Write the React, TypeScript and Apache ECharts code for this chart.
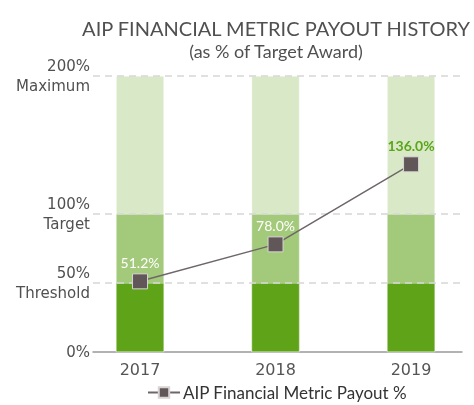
import React, { useEffect, useRef } from "react";
import * as echarts from "echarts";

const years = ["2017", "2018", "2019"];
const thresholdLevel = [50, 50, 50];
const targetLevel = [100, 100, 100];
const maximumLevel = [200, 200, 200];
const payout = [51.2, 78.0, 136.0];
const payoutLabelColors = ["#ffffff", "#ffffff", "#5aa51a"];
const yTicks = [0, 50, 100, 200];
const yTickNames: Record<number, string> = { 0: "", 50: "Threshold", 100: "Target", 200: "Maximum" };

const FONT = "'DejaVu Sans', sans-serif";
const TFONT = "Lato, sans-serif";

export default function App() {
  const ref = useRef<HTMLDivElement>(null);
  useEffect(() => {
    const chart = echarts.init(ref.current!, undefined, { renderer: "svg" });
    const idx = years.map((_, i) => i);
    const barSeries = (levels: number[], color: string) => ({
      type: "bar",
      barWidth: 48,
      barGap: "-100%",
      data: levels.map((v, i) => [i, v]),
      itemStyle: { color, borderColor: "rgba(255,255,255,0.6)", borderWidth: 0.6 },
      z: 2,
    });
    chart.setOption({
      animation: false,
      textStyle: { fontFamily: FONT },
      title: {
        text: "AIP FINANCIAL METRIC PAYOUT HISTORY",
        subtext: "(as % of Target Award)",
        left: 271,
        textAlign: "center",
        top: 13,
        itemGap: 4,
        textStyle: { fontFamily: TFONT, fontSize: 20, fontWeight: 400, color: "#505050" },
        subtextStyle: { fontFamily: TFONT, fontSize: 18, fontWeight: 400, color: "#505050" },
      },
      legend: {
        top: 384,
        left: 147,
        padding: 0,
        itemWidth: 32,
        itemHeight: 13,
        itemGap: 3,
        data: ["AIP Financial Metric Payout %"],
        textStyle: { fontFamily: TFONT, fontSize: 17, color: "#333", padding: [0, 0, 0, -2] },
      },
      grid: { left: 93, right: 12, top: 76, bottom: 53 },
      xAxis: {
        type: "value",
        min: -0.347,
        max: 2.376,
        splitLine: { show: false },
        axisLine: { show: true, onZero: false, lineStyle: { color: "#999", width: 1.5 } },
        axisTick: { show: false, customValues: idx },
        axisLabel: {
          customValues: idx,
          formatter: (v: number) => years[Math.round(v)] ?? "",
          fontFamily: FONT,
          fontSize: 16,
          color: "#555",
          margin: 9,
        },
      },
      yAxis: {
        type: "value",
        min: 0,
        max: 200,
        axisLine: { show: false },
        axisTick: { show: false, customValues: yTicks },
        axisLabel: {
          customValues: yTicks,
          formatter: (v: number) => (yTickNames[v] ? v + "%\n" + yTickNames[v] : v + "%"),
          fontFamily: FONT,
          fontSize: 15,
          lineHeight: 20,
          color: "#505050",
          margin: 3,
        },
        splitLine: { show: false },
      },
      series: [
        {
          ...barSeries(maximumLevel, "#d9e9c8"),
          markLine: {
            silent: true,
            symbol: "none",
            label: { show: false },
            lineStyle: { color: "#d6d6d6", type: [7, 5], width: 1.5 },
            data: yTicks.filter((t) => t > 0).map((t) => ({ yAxis: t })),
          },
          z: 1,
        },
        barSeries(targetLevel, "#a3c97b"),
        barSeries(thresholdLevel, "#5fa318"),
        {
          name: "AIP Financial Metric Payout %",
          type: "line",
          symbol: "rect",
          symbolSize: 15,
          z: 5,
          lineStyle: { color: "#6e6668", width: 1.5 },
          itemStyle: { color: "#615759", borderColor: "#d9d4d4", borderWidth: 1 },
          data: payout.map((v, i) => ({
            value: [i, v],
            label: {
              show: true,
              position: "top",
              distance: 4,
              formatter: v.toFixed(1) + "%",
              color: payoutLabelColors[i],
              fontWeight: i === 2 ? "bold" : "normal",
              fontSize: 14,
              fontFamily: TFONT,
            },
          })),
        },
      ],
    });
    return () => chart.dispose();
  }, []);
  return <div ref={ref} style={{ width: 474, height: 405, position: "fixed", left: 0, top: 0 }} />;
}
